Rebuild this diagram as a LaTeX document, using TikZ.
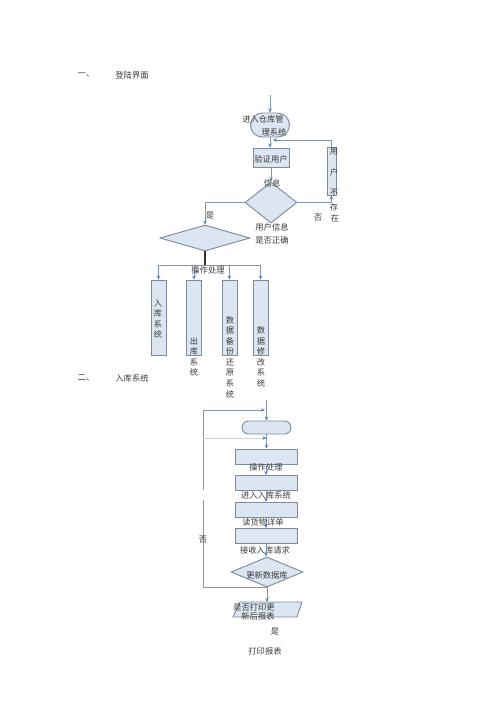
\documentclass[tikz,border=0pt]{standalone}
\usepackage{fontspec}
\newfontfamily\cjk{Noto Sans CJK SC}
\usetikzlibrary{shapes.geometric,shapes.misc,arrows.meta}
\definecolor{boxc}{HTML}{DCE6F2}
\definecolor{bordc}{HTML}{7F8A9C}
\definecolor{linec}{HTML}{8595AE}
\definecolor{tipc}{HTML}{4F81BD}
\definecolor{txtc}{HTML}{3A3A3A}
\begin{document}
\begin{tikzpicture}[x=0.75pt,y=-0.75pt,
 lbl/.style={font=\cjk\fontsize{6.2pt}{7.9pt}\selectfont, text=txtc, inner sep=0, align=center},
 shp/.style={draw=bordc, fill=boxc, line width=0.7pt, inner sep=0},
 conn/.style={draw=linec, line width=0.6pt},
 arr/.style={conn, -{Stealth[length=3pt,width=2.6pt,color=tipc]}},
 faint/.style={draw=gray!35, line width=0.5pt},
]
\fill[white] (0,0) rectangle (500,708);
\useasboundingbox (0,0) rectangle (500,708);

% ---------- section 1 ----------
\node[lbl] (s1n) at (86,75) {一、};
\node[lbl] (s1t) at (132,75) {登陆界面};

\node[shp, rounded rectangle, minimum width=29.25pt, minimum height=18pt] (term1) at (270,125) {};
\node[lbl] (t1a) at (263,119) {进入仓库管};
\node[lbl] (t1b) at (274,132) {理系统};
\coordinate (in1) at (270,95);
\draw[arr] (in1) -- (term1.north);

\node[shp, minimum width=27pt, minimum height=14.25pt] (vbox) at (271,157.5) {};
\node[lbl] (vboxt) at (271,159) {验证用户};
\draw[arr] (term1.south) -- (term1.south |- vbox.north);

\node[shp, minimum width=6.75pt, minimum height=36pt] (ubox) at (331.5,171) {};
\node[lbl] (u1) at (334,152) {用};
\node[lbl] (u2) at (334,172) {户};
\node[lbl] (u3) at (334,193) {不};
\node[lbl] (u4) at (334,207) {存};
\node[lbl] (u5) at (335,218) {在};
\node[lbl] (no1) at (318,218) {否};
\coordinate (j1) at (273,140);
\draw[arr] (ubox.north) |- (j1);

\node[shp, diamond, minimum width=39pt, minimum height=30.75pt] (dia1) at (271,202.5) {};
\node[lbl] (xinxi) at (272,183) {信息};
\draw[arr] (vbox.south) -- (vbox.south |- dia1.north);
\node[lbl] (q1a) at (272,227) {用户信息};
\node[lbl] (q1b) at (272,240) {是否正确};
\draw[arr] (dia1.east) -| (ubox.south);

\node[shp, diamond, minimum width=67.5pt, minimum height=19.5pt] (dia2) at (205,238) {};
\draw[arr] (dia1.west) -| (dia2.north);
\node[lbl] (yes1) at (210,216) {是};

\coordinate (bus) at (205,265);
\draw[draw=black!80, line width=0.9pt] (dia2.south) -- (bus);

\foreach \n/\x in {1/158.5,2/194,3/229.5,4/260.5}{
  \node[shp, minimum width=11.25pt, minimum height=56.25pt] (sb\n) at (\x,317.5) {};
}
\coordinate (busL) at (158.5,265);
\coordinate (busR) at (260.5,265);
\draw[conn] (busL) -- (busR);
\foreach \n in {1,2,3,4}{
  \draw[arr] (sb\n.north |- bus) -- (sb\n.north);
}
\node[lbl] (op1) at (208,270) {操作处理};
\node[lbl] (sbt1) at (158,319) {入\\库\\系\\统};
\node[lbl] (sbt2) at (194,357) {出\\库\\系\\统};
\node[lbl] (sbt3) at (230,357) {数\\据\\备\\份\\还\\原\\系\\统};
\node[lbl] (sbt4) at (261,357) {数\\据\\修\\改\\系\\统};

% ---------- section 2 ----------
\node[lbl] (s2n) at (86,378) {二、};
\node[lbl] (s2t) at (132,378) {入库系统};

\node[shp, rounded rectangle, minimum width=36.75pt, minimum height=9.75pt] (term2) at (266.5,427.5) {};
\coordinate (in2) at (266.5,400);
\draw[arr] (in2) -- (term2.north);

\foreach \n/\y in {1/456.5,2/483,3/510,4/536}{
  \node[shp, minimum width=46.5pt, minimum height=11.25pt] (b\n) at (266,\y) {};
}
\draw[arr] (term2.south) -- (term2.south |- b1.north);
\draw[arr] (b1.south) -- (b2.north);
\draw[arr] (b2.south) -- (b3.north);
\draw[arr] (b3.south) -- (b4.north);
\node[lbl] (bt1) at (266,467) {操作处理};
\node[lbl] (bt2) at (266,495) {进入入库系统};
\node[lbl] (bt3) at (263,522) {读货物详单};
\node[lbl] (bt4) at (265,550) {接收入库请求};

\node[shp, diamond, minimum width=54pt, minimum height=22.5pt] (dia3) at (267,572) {};
\draw[arr] (b4.south) -- (b4.south |- dia3.north);
\node[lbl] (dt3) at (267,575) {更新数据库};

% loop back
\coordinate (gapB) at (203,500);
\coordinate (gapT) at (203,490);
\coordinate (j2) at (265,410);
\draw[conn] (dia3.south) -| (gapB);
\draw[arr] (gapT) |- (j2);
\coordinate (fl) at (203,438);
\draw[faint, -{Stealth[length=3pt,width=2.6pt,color=tipc]}] (fl) -- (fl -| term2.south);
\node[lbl] (no2) at (203,540) {否};

% output
\coordinate (pa) at (240,602);
\coordinate (pb) at (302,602);
\coordinate (pc) at (297,617);
\coordinate (pd) at (233,617);
\draw[shp] (pa) -- (pb) -- (pc) -- (pd) -- cycle;
\coordinate (ptop) at (267,602);
\draw[arr] (dia3.south) -- (ptop);
\node[lbl] (pt1) at (254,607) {是否打印更};
\node[lbl] (pt2) at (258,616) {新后报表};
\node[lbl] (yes2) at (275,632) {是};
\node[lbl] (prt) at (265,651) {打印报表};
\end{tikzpicture}
\end{document}
